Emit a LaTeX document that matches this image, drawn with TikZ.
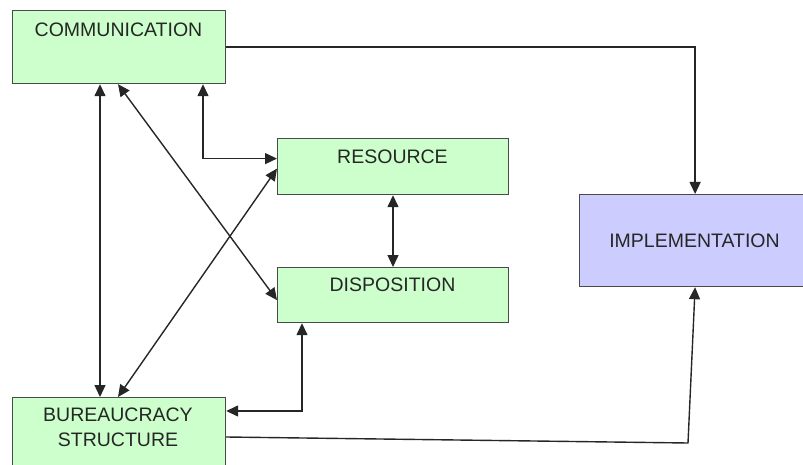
\documentclass[tikz,border=0pt]{standalone}
\usepackage{fontspec}
\setmainfont{Liberation Sans}
\usetikzlibrary{arrows.meta,calc}
\definecolor{gbox}{HTML}{CCFFCC}
\definecolor{pbox}{HTML}{CCCCFF}
\definecolor{edge}{HTML}{4A4A4A}
\begin{document}
\begin{tikzpicture}[x=1pt,y=-1pt,
  box/.style={draw=edge,line width=1.2pt,rectangle,anchor=north west,inner sep=0pt},
  lbl/.style={font=\fontsize{19.5}{23}\selectfont,inner sep=0pt,text=black!85},
  con/.style={line width=1.4pt,draw=black!85},
  tip/.style={-{Triangle[length=12pt,width=11pt]}},
  both/.style={{Triangle[length=12pt,width=11pt]}-{Triangle[length=12pt,width=11pt]}}]
\useasboundingbox (0,0) rectangle (803,465);
\clip (0,0) rectangle (803,465);
\node[box,fill=gbox,minimum width=213pt,minimum height=73pt] (comm) at (12,10) {};
\node[box,fill=gbox,minimum width=231pt,minimum height=56pt] (res) at (277,138) {};
\node[box,fill=gbox,minimum width=231pt,minimum height=55pt] (disp) at (277,267) {};
\node[box,fill=gbox,minimum width=213pt,minimum height=80pt] (bur) at (12,397) {};
\node[box,fill=pbox,minimum width=231pt,minimum height=92pt] (impl) at (579,194) {};
\node[lbl] (commt) at (118.5,30) {COMMUNICATION};
\node[lbl] (rest) at (392.5,157) {RESOURCE};
\node[lbl] (dispt) at (392.5,285) {DISPOSITION};
\node[lbl] (burt1) at (118,415) {BUREAUCRACY};
\node[lbl] (burt2) at (118,440) {STRUCTURE};
\node[lbl] (implt) at (694.5,241) {IMPLEMENTATION};
\coordinate (bk) at (688,443);
% connectors
\draw[con,tip] (comm.east) -| (impl.north);
\draw[con,both] ([xshift=88pt]comm.south west) -- ([xshift=88pt]bur.north west);
\draw[con,both] ([xshift=106pt]comm.south west) -- ([yshift=-5pt]disp.west);
\draw[con,both] ([xshift=191pt]comm.south west) |- ([yshift=8pt]res.west);
\draw[con,both] ([xshift=106pt]bur.north west) -- ([yshift=-2pt]res.west);
\draw[con,both] ([xshift=116pt]res.south west) -- ([xshift=116pt]disp.north west);
\draw[con,both] ([xshift=25pt]disp.south west) |- ([yshift=-14pt]bur.north east);
\draw[con,tip] ([yshift=-40pt]bur.north east) -- (bk) -- (impl.south);
\end{tikzpicture}
\end{document}
